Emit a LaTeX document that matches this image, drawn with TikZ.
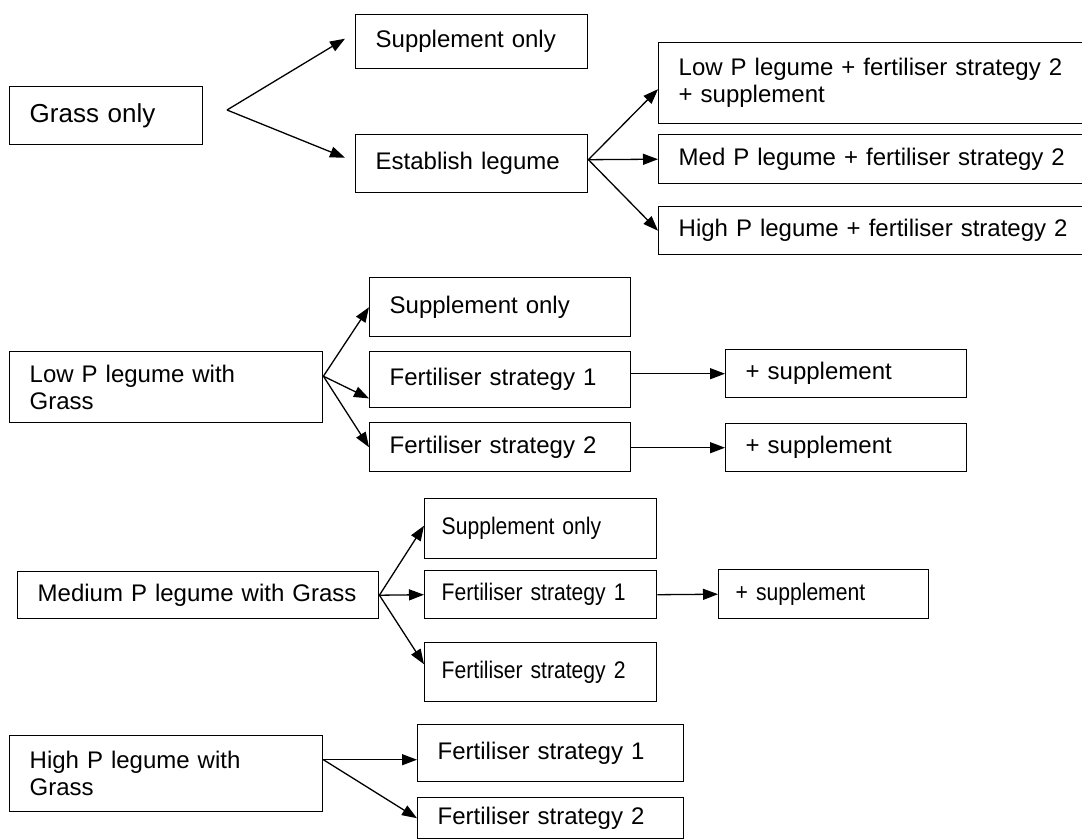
\documentclass[tikz,border=0pt]{standalone}
\usepackage{fontspec}
\setmainfont{Liberation Sans}
\newfontfamily\narrowfont[FakeStretch=0.88]{Liberation Sans}
\usetikzlibrary{arrows.meta,positioning}

\begin{document}
\begin{tikzpicture}[x=1pt,y=-1pt]
        \tikzstyle{box} = [rectangle,draw,line width=1.4pt,anchor=north west,align=left,inner xsep=20pt,inner ysep=0pt,font=\fontsize{24pt}{27pt}\selectfont]
        \tikzstyle{narrowbox} = [box,inner xsep=17pt,font=\narrowfont\fontsize{24pt}{27pt}\selectfont]
        \tikzstyle{arr} = [line width=1.3pt,-{Triangle[length=15pt,width=11pt]}]
        \useasboundingbox (0,0) rectangle (1082,839);

        % grass only
        \node[box,text width=153pt,minimum height=58pt,font=\fontsize{26pt}{29pt}\selectfont] (grass) at (9,86) {Grass only};
        \node[box,text width=192pt,minimum height=54pt] (sup1) at (355,14) {Supplement only};
        \node[box,text width=192pt,minimum height=58pt] (est) at (355,134) {Establish legume};
        \node[box,text width=392pt,minimum height=81pt] (lowleg) at (658,42) {Low P legume + fertiliser strategy 2\\+ supplement};
        \node[box,text width=392pt,minimum height=49pt] (medleg) at (658,134) {Med P legume + fertiliser strategy 2};
        \node[box,text width=392pt,minimum height=48pt] (highleg) at (658,206) {High P legume + fertiliser strategy 2};
        \coordinate (fork) at (227,110);
        \draw[arr] (fork) -- ([xshift=-10pt,yshift=3pt]sup1.west);
        \draw[arr] (fork) -- ([xshift=-10pt,yshift=6pt]est.west);
        \draw[arr] ([yshift=4pt]est.east) -- ([yshift=-6pt]lowleg.west);
        \draw[arr] ([yshift=4pt]est.east) -- (medleg.west);
        \draw[arr] ([yshift=4pt]est.east) -- (highleg.west);

        % low P legume
        \node[box,text width=273pt,minimum height=71pt] (lowgr) at (9,351) {Low P legume with\\Grass};
        \node[box,text width=221pt,minimum height=59pt] (sup2) at (369,277) {Supplement only};
        \node[box,text width=221pt,minimum height=56pt] (fa1) at (369,351) {Fertiliser strategy 1};
        \node[box,text width=221pt,minimum height=49pt] (fa2) at (369,422) {Fertiliser strategy 2};
        \node[box,text width=201pt,minimum height=48pt] (pa1) at (725,349) {+ supplement};
        \node[box,text width=201pt,minimum height=48pt] (pa2) at (725,423) {+ supplement};
        \coordinate (lfork) at ([yshift=11pt]lowgr.east);
        \draw[arr] (lfork) -- (sup2.west);
        \draw[arr] (lfork) -- ([yshift=10pt]fa1.south west);
        \draw[arr] (lfork) -- (fa2.west);
        \draw[arr] (pa1.west -| fa1.east) -- (pa1.west);
        \draw[arr] (pa2.west -| fa2.east) -- (pa2.west);

        % medium P legume
        \node[box,text width=321pt,minimum height=47pt] (medgr) at (17,571) {Medium P legume with Grass};
        \node[narrowbox,text width=198pt,minimum height=60pt] (sup3) at (424,498) {Supplement only};
        \node[narrowbox,text width=198pt,minimum height=48pt] (fb1) at (424,570) {Fertiliser strategy 1};
        \node[narrowbox,text width=198pt,minimum height=59pt] (fb2) at (424,642) {Fertiliser strategy 2};
        \node[narrowbox,text width=176pt,minimum height=49pt] (pb1) at (718,569) {+ supplement};
        \draw[arr] (medgr.east) -- ([yshift=3pt]sup3.west);
        \draw[arr] (medgr.east) -- (fb1.west);
        \draw[arr] (medgr.east) -- ([yshift=8pt]fb2.west);
        \draw[arr] (fb1.east) -- (pb1.west);

        % high P legume
        \node[box,text width=273pt,minimum height=76pt] (highgr) at (9,735) {High P legume with\\Grass};
        \node[box,text width=226pt,minimum height=57pt] (fc1) at (417,724) {Fertiliser strategy 1};
        \node[box,text width=226pt,minimum height=41pt] (fc2) at (417,797) {Fertiliser strategy 2};
        \coordinate (hfork) at ([yshift=14pt]highgr.east);
        \draw[arr] (hfork) -- (fc1.west |- hfork);
        \draw[arr] (hfork) -- (fc2.west);
\end{tikzpicture}
\end{document}
